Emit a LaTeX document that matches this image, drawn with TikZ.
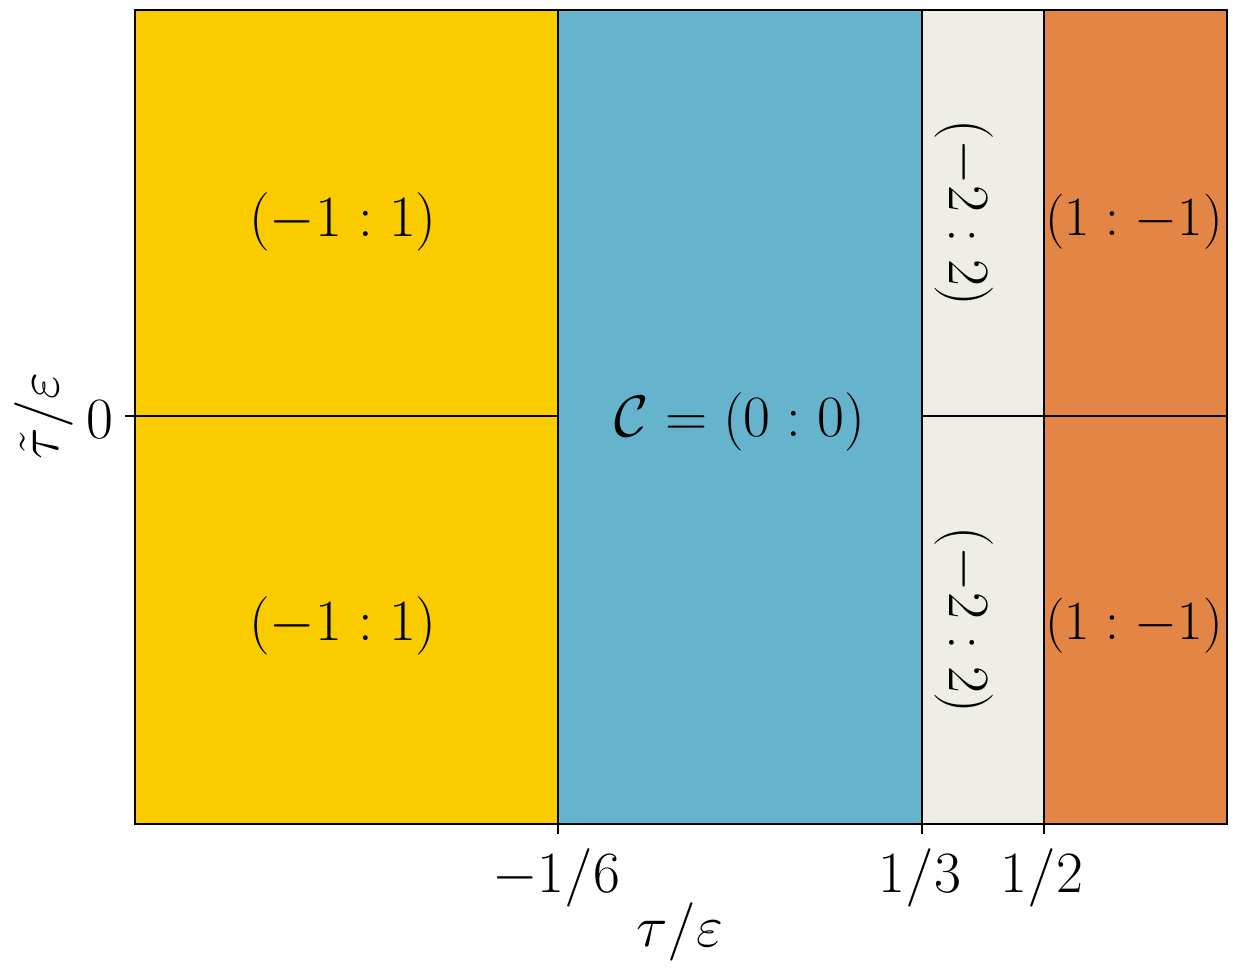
\documentclass[tikz,border=0pt]{standalone}
\definecolor{cyel}{RGB}{250,204,0}
\definecolor{cblue}{RGB}{102,179,206}
\definecolor{cgrey}{RGB}{238,237,230}
\definecolor{corange}{RGB}{227,133,68}
\tikzset{
  lbl/.style={inner sep=0pt,font=\Huge,scale=2.35},
  axln/.style={line width=2pt,black},
}
\begin{document}
\begin{tikzpicture}[x=1pt,y=-1pt]
\useasboundingbox (0,0) rectangle (1238,972);
% regions
\fill[cyel] (135,10) rectangle (558,824);
\fill[cblue] (558,10) rectangle (922,824);
\fill[cgrey] (922,10) rectangle (1044,824);
\fill[corange] (1044,10) rectangle (1227,824);
% coordinates
\coordinate (l0) at (135,416);
\coordinate (l1) at (558,416);
\coordinate (r0) at (922,416);
\coordinate (r1) at (1227,416);
\coordinate (a1) at (558,10);
\coordinate (a2) at (558,834);
\coordinate (b1) at (922,10);
\coordinate (b2) at (922,834);
\coordinate (c1) at (1044,10);
\coordinate (c2) at (1044,834);
\coordinate (t1) at (125,416);
% lines
\draw[axln] (l0) -- (l1);
\draw[axln] (r0) -- (r1);
\draw[axln] (a1) -- (a2);
\draw[axln] (b1) -- (b2);
\draw[axln] (c1) -- (c2);
\draw[axln] (t1) -- (l0);
\draw[axln] (135,10) rectangle (1227,824);
% region labels
\node[lbl] (y1) at (343,222) {$(-1:1)$};
\node[lbl] (y2) at (343,626) {$(-1:1)$};
\node[lbl] (cc) at (740,422) {$\mathcal{C}=(0:0)$};
\node[lbl,rotate=-90] (g1) at (964,213) {$(-2:2)$};
\node[lbl,rotate=-90] (g2) at (964,620) {$(-2:2)$};
\node[lbl,scale=0.945] (o1) at (1134,222) {$(1:-1)$};
\node[lbl,scale=0.945] (o2) at (1134,626) {$(1:-1)$};
% tick labels
\node[lbl,anchor=north] (k1) at (556,848) {$-1/6$};
\node[lbl,anchor=north] (k2) at (920,848) {$1/3$};
\node[lbl,anchor=north] (k3) at (1042,848) {$1/2$};
\node[lbl,anchor=east] (k0) at (114,420) {$0$};
% axis labels
\node[lbl] (xl) at (680,932) {$\tau/\varepsilon$};
\node[lbl,rotate=90] (yl) at (44,416) {$\tilde{\tau}/\varepsilon$};
\end{tikzpicture}
\end{document}
